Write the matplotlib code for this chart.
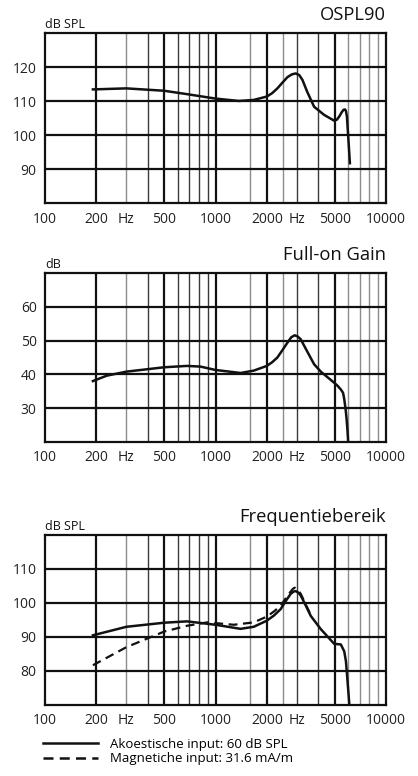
import matplotlib
matplotlib.use("Agg")
import matplotlib.pyplot as plt
from matplotlib.lines import Line2D

plt.rcParams['font.family'] = ['Open Sans', 'DejaVu Sans']

# ---- data ----
ospl_f = [191, 300, 500, 681, 1000, 1372, 1675, 2000, 2150, 2306, 2470, 2641, 2800,
          2955, 3100, 3235, 3450, 3787, 4337, 4966, 5150, 5315, 5500, 5636, 5750,
          5820, 5900, 5951, 6050, 6141]
ospl_db = [113.5, 113.8, 113.1, 112.1, 110.8, 110.1, 110.4, 111.4, 112.4, 113.8,
           115.5, 117.1, 117.9, 118.2, 117.7, 116.3, 112.8, 108.4, 106.0, 104.3,
           104.6, 105.5, 106.8, 107.5, 107.6, 107.2, 105.5, 102.5, 97.0, 91.8]

gain_f = [191, 230, 300, 500, 681, 816, 1000, 1403, 1675, 2000, 2150, 2306, 2470,
          2641, 2780, 2915, 3040, 3162, 3450, 3787, 4147, 4966, 5200, 5435, 5600,
          5688, 5800, 5869, 5940, 5999]
gain_db = [38.0, 39.6, 40.8, 42.1, 42.5, 42.3, 41.3, 40.4, 41.1, 42.5, 43.6, 45.0,
           47.2, 49.4, 51.0, 51.6, 51.2, 50.4, 46.8, 43.0, 40.8, 37.5, 36.6, 35.5,
           34.5, 32.7, 29.5, 26.9, 23.5, 20.0]

acou_f = [191, 300, 500, 681, 1000, 1403, 1675, 2000, 2200, 2412, 2600, 2762, 2880,
          2955, 3050, 3162, 3380, 3620, 4147, 4966, 5200, 5435, 5688, 5820, 5951,
          6086]
acou_db = [90.5, 93.0, 94.2, 94.6, 93.6, 92.4, 93.0, 94.8, 96.3, 98.2, 100.8, 102.7,
           103.4, 103.5, 103.1, 102.2, 99.3, 96.2, 92.3, 88.0, 87.9, 87.8, 85.8, 82.9,
           76.9, 70.5]

magn_f = [191, 300, 500, 681, 893, 1282, 1675, 2000, 2200, 2412, 2600, 2762, 2850,
          2915, 3000, 3162, 3380, 3620]
magn_db = [81.7, 87.0, 91.6, 93.3, 94.3, 93.6, 94.3, 96.0, 97.5, 99.2, 101.6, 103.4,
           104.2, 104.5, 104.2, 102.7, 99.6, 96.5]

x_ticks = [100, 200, 300, 500, 1000, 2000, 3000, 5000, 10000]
x_labels = ['100', '200', 'Hz', '500', '1000', '2000', 'Hz', '5000', '10000']

thick_x = [200, 500, 1000, 2000, 5000]
dark_x = [400, 600, 700, 800, 900, 3000, 4000]
gray_x = [300, 1600, 2500, 6000, 7000, 8000, 9000]

panels = [
    dict(title='OSPL90', unit='dB SPL', ylim=(80, 130), yticks=[90, 100, 110, 120]),
    dict(title='Full-on Gain', unit='dB', ylim=(20, 70), yticks=[30, 40, 50, 60]),
    dict(title='Frequentiebereik', unit='dB SPL', ylim=(70, 120), yticks=[80, 90, 100, 110]),
]

W, H = 418, 776
fig = plt.figure(figsize=(W / 100, H / 100), dpi=100)

# axes boxes in pixels: (top, bottom)
boxes = [(33.3, 203.3), (273.3, 441.7), (535, 705)]
left_px, right_px = 45, 386

axes = []
for (top, bot), p in zip(boxes, panels):
    ax = fig.add_axes([left_px / W, 1 - bot / H, (right_px - left_px) / W, (bot - top) / H])
    ax.set_xscale('log')
    ax.set_xlim(100, 10000)
    ax.set_ylim(*p['ylim'])
    ax.minorticks_off()
    ax.set_xticks(x_ticks)
    ax.set_xticklabels(x_labels)
    ax.set_yticks(p['yticks'])
    ax.tick_params(length=0, labelsize=10, pad=6, colors='#222222')
    for s in ax.spines.values():
        s.set_linewidth(1.6)
        s.set_color('#111111')
    for x in gray_x:
        ax.axvline(x, color='#8c8c8c', lw=1.0, zorder=1)
    for x in dark_x:
        ax.axvline(x, color='#3a3a3a', lw=1.0, zorder=1)
    for x in thick_x:
        ax.axvline(x, color='#111111', lw=1.6, zorder=1)
    for y in p['yticks']:
        ax.axhline(y, color='#111111', lw=1.6, zorder=1)
    fig.text(right_px / W, 1 - (top - 18) / H, p['title'], ha='right', va='center',
             fontsize=13.2, color='#111111')
    fig.text(left_px / W, 1 - (top - 9) / H, p['unit'], ha='left', va='center',
             fontsize=9, color='#111111')
    axes.append(ax)

axes[0].plot(ospl_f, ospl_db, color='#111111', lw=1.8, zorder=3)
axes[1].plot(gain_f, gain_db, color='#111111', lw=1.8, zorder=3, clip_on=True)
axes[2].plot(acou_f, acou_db, color='#111111', lw=1.8, zorder=3)
axes[2].plot(magn_f, magn_db, color='#111111', lw=1.6, ls=(0, (4, 2.5)), zorder=3)

# legend
leg_handles = [Line2D([0], [0], color='#111111', lw=1.8),
               Line2D([0], [0], color='#111111', lw=1.8, ls=(0, (4, 2.5)))]
leg = fig.legend(leg_handles,
                 ['Akoestische input: 60 dB SPL', 'Magnetiche input: 31.6 mA/m'],
                 loc='upper left', bbox_to_anchor=(43 / W, 1 - 738 / H),
                 frameon=False, fontsize=9.5, handlelength=4.2, handletextpad=0.9,
                 labelspacing=0.1, borderpad=0, borderaxespad=0)

fig.savefig('out.png', dpi=100)
